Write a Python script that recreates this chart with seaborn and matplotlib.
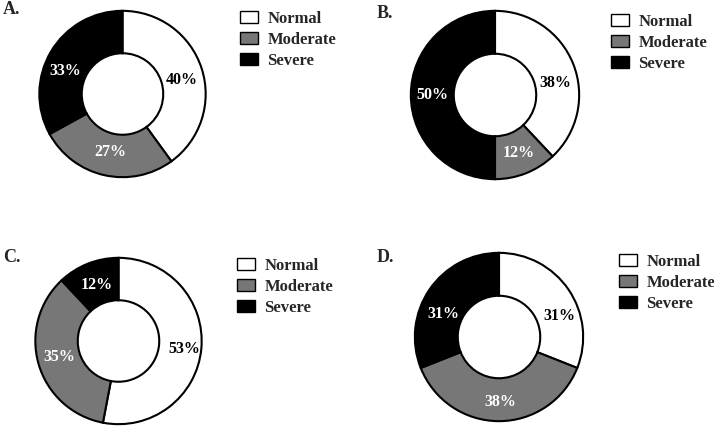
import matplotlib
matplotlib.use("Agg")
import matplotlib.pyplot as plt
import seaborn as sns
from matplotlib.patches import Patch

sns.set_theme(style="white")
plt.rcParams['font.family'] = ['Liberation Serif', 'DejaVu Serif']
plt.rcParams['font.weight'] = 'bold'

categories = ["Normal", "Moderate", "Severe"]
panel_labels = ["A.", "B.", "C.", "D."]
values_A = [40, 27, 33]
values_B = [38, 12, 50]
values_C = [53, 35, 12]
values_D = [31, 38, 31]
all_values = [values_A, values_B, values_C, values_D]

colors = ["#ffffff", "#777777", "#000000"]
text_colors = ["black", "white", "white"]

W, H = 714, 428
fig = plt.figure(figsize=(W / 100, H / 100), dpi=100)

# layout in pixels: (cx, cy, r), panel label pos, legend upper-left,
# and small pixel nudges (dx right, dy down) for the percentage labels
layout = [
    dict(c=(122.5, 94), r=84, lab=(3, 10), leg=(240, 11),
         nudge=[(0, 5), (1, -2.5), (-3.5, 8.5)]),
    dict(c=(495, 95), r=85, lab=(377, 13), leg=(611, 14),
         nudge=[(2, 11), (1, 0), (0, 0)]),
    dict(c=(118.5, 341), r=84, lab=(3, 258), leg=(237, 258),
         nudge=[(4, 2.5), (0, -1), (1.5, 1.5)]),
    dict(c=(499, 337), r=85, lab=(377, 257), leg=(619, 254),
         nudge=[(9, 14), (1, 2), (-4, 12)]),
]

for vals, lay, plab in zip(all_values, layout, panel_labels):
    cx, cy = lay["c"]
    r = lay["r"]
    ax = fig.add_axes([(cx - r) / W, 1 - (cy + r) / H, 2 * r / W, 2 * r / H])
    wedges, texts, autotexts = ax.pie(
        vals, colors=colors, startangle=90, counterclock=False, radius=1,
        wedgeprops=dict(width=0.51, edgecolor="black", linewidth=1.5),
        autopct=lambda p: f"{round(p)}%", pctdistance=0.745,
    )
    scale = 1.01 / r
    for t, tc, (dx, dy) in zip(autotexts, text_colors, lay["nudge"]):
        t.set_color(tc)
        t.set_fontsize(11.5)
        t.set_fontweight("bold")
        x, y = t.get_position()
        t.set_position((x + dx * scale, y - dy * scale))
    ax.set_xlim(-1.01, 1.01)
    ax.set_ylim(-1.01, 1.01)
    ax.set_aspect("equal")
    ax.axis("off")

    lx, ly = lay["lab"]
    fig.text(lx / W, 1 - ly / H, plab, ha="left", va="center",
             fontsize=13, fontweight="bold")

    handles = [Patch(facecolor=c, edgecolor="black", linewidth=1.0) for c in colors]
    gx, gy = lay["leg"]
    fig.legend(handles, categories, loc="upper left",
               bbox_to_anchor=(gx / W, 1 - gy / H), frameon=False,
               borderpad=0, borderaxespad=0, handlelength=1.05,
               handleheight=0.7, handletextpad=0.6, labelspacing=0.3,
               prop=dict(size=12, weight="bold"))

fig.savefig("out.png", dpi=100)
